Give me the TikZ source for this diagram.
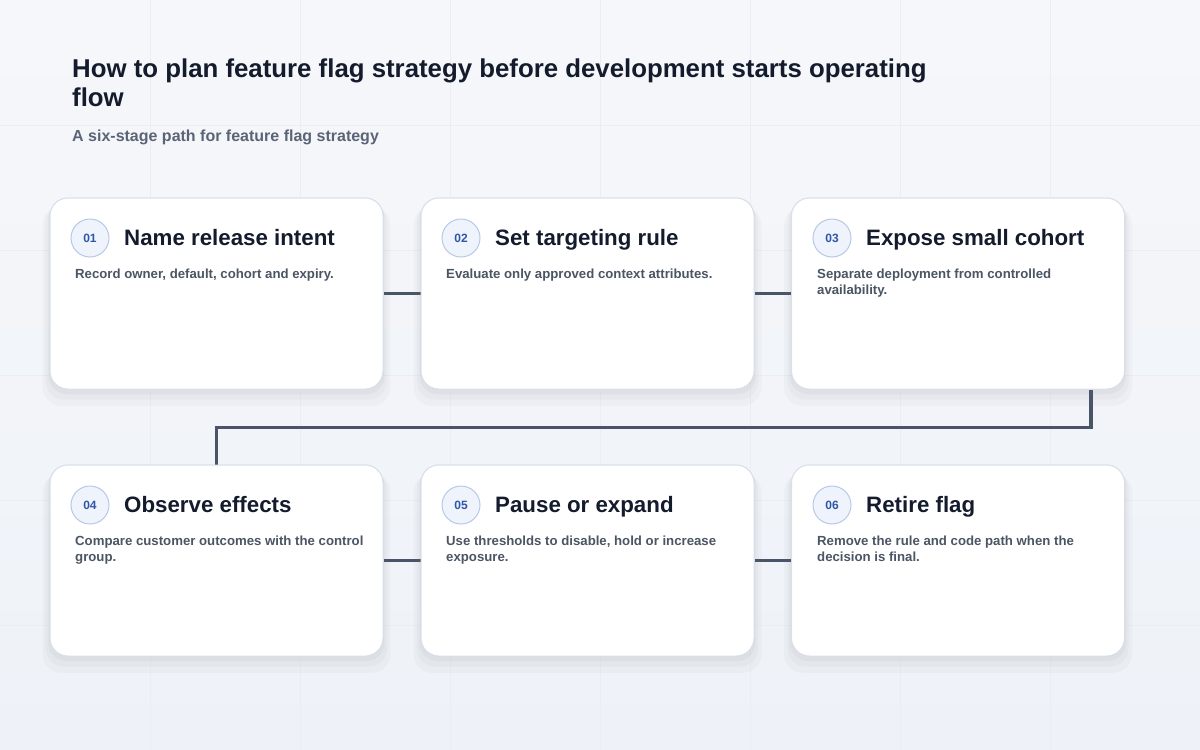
\documentclass[tikz,border=0pt]{standalone}
\usepackage{fontspec}
\setmainfont{Liberation Sans}
\usetikzlibrary{shadows}
\definecolor{bgtop}{HTML}{F6F7FA}
\definecolor{bgbot}{HTML}{EEF2F8}
\definecolor{gridc}{HTML}{EAEEF4}
\definecolor{edgec}{HTML}{D9E0EC}
\definecolor{ink}{HTML}{141B2D}
\definecolor{subc}{HTML}{5B6477}
\definecolor{descc}{HTML}{4B5563}
\definecolor{badgefill}{HTML}{EEF3FC}
\definecolor{badgeedge}{HTML}{B9C8E6}
\definecolor{badgeink}{HTML}{3056A6}
\definecolor{linkc}{HTML}{4A5468}
\begin{document}
\begin{tikzpicture}[x=1pt,y=-1pt,
card/.style={draw=edgec,line width=1pt,fill=white,rounded corners=18pt,minimum width=333pt,minimum height=191pt,inner sep=0pt,
drop shadow={opacity=.02,shadow xshift=0pt,shadow yshift=-12pt,shadow scale=1.045},
drop shadow={opacity=.025,shadow xshift=0pt,shadow yshift=-8pt,shadow scale=1.025},
drop shadow={opacity=.03,shadow xshift=0pt,shadow yshift=-4pt,shadow scale=1.01}},
badge/.style={circle,draw=badgeedge,line width=1pt,fill=badgefill,minimum size=38pt,inner sep=0pt,text=badgeink,font=\bfseries\fontsize{12}{14}\selectfont},
stagetitle/.style={anchor=base west,inner sep=0pt,text=ink,font=\bfseries\fontsize{22.3}{26}\selectfont},
stagetext/.style={anchor=north west,inner sep=0pt,align=left,text=descc,font=\bfseries\fontsize{13.2}{16}\selectfont},
link/.style={draw=linkc,line width=3.5pt}]
\useasboundingbox (0,0) rectangle (1200,750);
\shade[top color=bgtop,bottom color=bgbot] (0,0) rectangle (1200,750);
\draw[gridc,line width=0.8pt] (150,0) -- (150,750) (300,0) -- (300,750) (450,0) -- (450,750) (600,0) -- (600,750) (750,0) -- (750,750) (900,0) -- (900,750) (1050,0) -- (1050,750);
\draw[gridc,line width=0.8pt] (0,125) -- (1200,125) (0,250) -- (1200,250) (0,375) -- (1200,375) (0,500) -- (1200,500) (0,625) -- (1200,625);
\node[anchor=base west,inner sep=0pt,align=left,text=ink,font=\bfseries\fontsize{25.8}{29}\selectfont] (title) at (72,106.5) {How to plan feature flag strategy before development starts operating\\flow};
\node[anchor=base west,inner sep=0pt,text=subc,font=\bfseries\fontsize{16}{19}\selectfont] (subtitle) at (72,141.5) {A six-stage path for feature flag strategy};
\node[card] (c1) at (216.5,293.5) {};
\node[card] (c2) at (587.5,293.5) {};
\node[card] (c3) at (958,293.5) {};
\node[card] (c4) at (216.5,560.5) {};
\node[card] (c5) at (587.5,560.5) {};
\node[card] (c6) at (958,560.5) {};
\draw[link] (c1) -- (c2);
\draw[link] (c2) -- (c3);
\draw[link] ([xshift=133pt]c3.south) -- ++(0,38) -| (c4.north);
\draw[link] (c4) -- (c5);
\draw[link] (c5) -- (c6);
\node[card] at (216.5,293.5) {};
\node[card] at (587.5,293.5) {};
\node[card] at (958,293.5) {};
\node[card] at (216.5,560.5) {};
\node[card] at (587.5,560.5) {};
\node[card] at (958,560.5) {};
\begin{scope}
\node[badge] (b1) at (90,238) {01};
\node[stagetitle] (t1) at (124,245) {Name release intent};
\node[stagetext] (d1) at (75,268.5) {Record owner, default, cohort and expiry.};
\end{scope}
\begin{scope}[xshift=371pt]
\node[badge] (b2) at (90,238) {02};
\node[stagetitle] (t2) at (124,245) {Set targeting rule};
\node[stagetext] (d2) at (75,268.5) {Evaluate only approved context attributes.};
\end{scope}
\begin{scope}[xshift=742pt]
\node[badge] (b3) at (90,238) {03};
\node[stagetitle] (t3) at (124,245) {Expose small cohort};
\node[stagetext] (d3) at (75,268.5) {Separate deployment from controlled\\availability.};
\end{scope}
\begin{scope}[yshift=-267pt]
\node[badge] (b4) at (90,238) {04};
\node[stagetitle] (t4) at (124,245) {Observe effects};
\node[stagetext] (d4) at (75,268.5) {Compare customer outcomes with the control\\group.};
\end{scope}
\begin{scope}[xshift=371pt,yshift=-267pt]
\node[badge] (b5) at (90,238) {05};
\node[stagetitle] (t5) at (124,245) {Pause or expand};
\node[stagetext] (d5) at (75,268.5) {Use thresholds to disable, hold or increase\\exposure.};
\end{scope}
\begin{scope}[xshift=742pt,yshift=-267pt]
\node[badge] (b6) at (90,238) {06};
\node[stagetitle] (t6) at (124,245) {Retire flag};
\node[stagetext] (d6) at (75,268.5) {Remove the rule and code path when the\\decision is final.};
\end{scope}
\end{tikzpicture}
\end{document}
